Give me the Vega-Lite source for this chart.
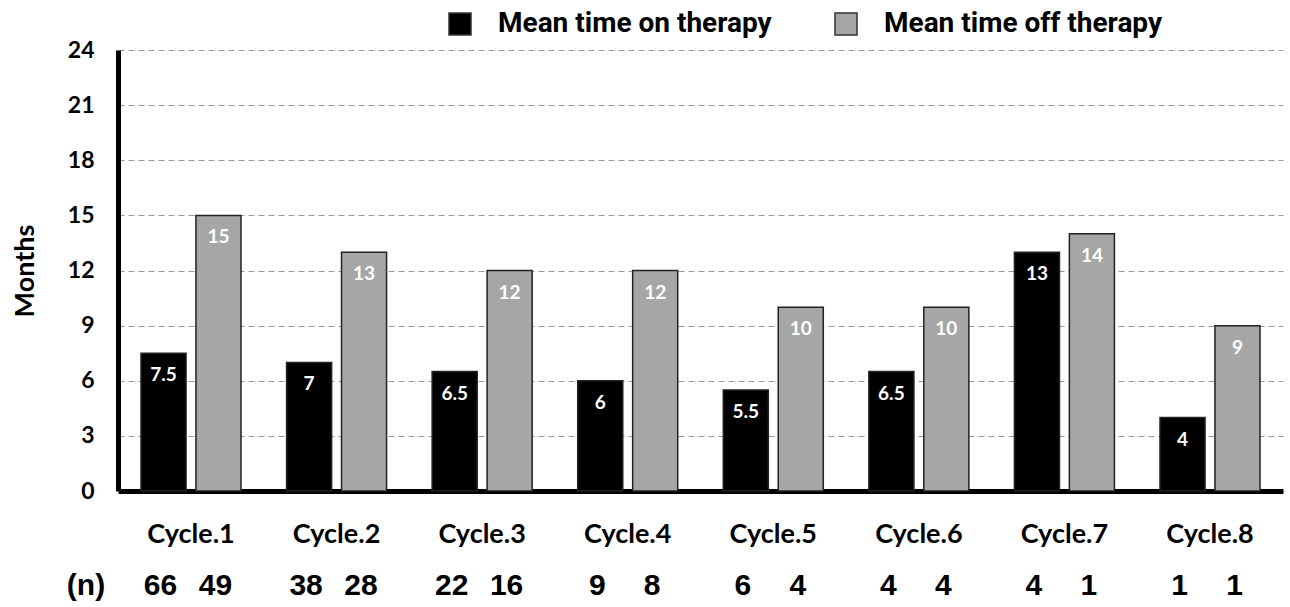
{
  "$schema": "https://vega.github.io/schema/vega-lite/v6.json",
  "width": 1165,
  "height": 441,
  "autosize": "none",
  "padding": {"left": 118, "top": 50, "right": 7, "bottom": 116},
  "background": "white",
  "config": {"view": {"stroke": null}},
  "data": {
    "values": [
      {"cycle": "Cycle.1", "series": "Mean time on therapy", "months": 7.5, "label": "7.5", "n": 66},
      {"cycle": "Cycle.1", "series": "Mean time off therapy", "months": 15, "label": "15", "n": 49},
      {"cycle": "Cycle.2", "series": "Mean time on therapy", "months": 7, "label": "7", "n": 38},
      {"cycle": "Cycle.2", "series": "Mean time off therapy", "months": 13, "label": "13", "n": 28},
      {"cycle": "Cycle.3", "series": "Mean time on therapy", "months": 6.5, "label": "6.5", "n": 22},
      {"cycle": "Cycle.3", "series": "Mean time off therapy", "months": 12, "label": "12", "n": 16},
      {"cycle": "Cycle.4", "series": "Mean time on therapy", "months": 6, "label": "6", "n": 9},
      {"cycle": "Cycle.4", "series": "Mean time off therapy", "months": 12, "label": "12", "n": 8},
      {"cycle": "Cycle.5", "series": "Mean time on therapy", "months": 5.5, "label": "5.5", "n": 6},
      {"cycle": "Cycle.5", "series": "Mean time off therapy", "months": 10, "label": "10", "n": 4},
      {"cycle": "Cycle.6", "series": "Mean time on therapy", "months": 6.5, "label": "6.5", "n": 4},
      {"cycle": "Cycle.6", "series": "Mean time off therapy", "months": 10, "label": "10", "n": 4},
      {"cycle": "Cycle.7", "series": "Mean time on therapy", "months": 13, "label": "13", "n": 4},
      {"cycle": "Cycle.7", "series": "Mean time off therapy", "months": 14, "label": "14", "n": 1},
      {"cycle": "Cycle.8", "series": "Mean time on therapy", "months": 4, "label": "4", "n": 1},
      {"cycle": "Cycle.8", "series": "Mean time off therapy", "months": 9, "label": "9", "n": 1}
    ]
  },
  "encoding": {
    "x": {
      "field": "cycle", "type": "nominal", "sort": null,
      "scale": {"paddingInner": 0.313, "paddingOuter": 0.158},
      "axis": {
        "title": null, "labelAngle": 0, "ticks": false,
        "domainColor": "black", "domainWidth": 5,
        "labelFont": "Lato", "labelFontWeight": "bold", "labelFontSize": 27,
        "labelColor": "black", "labelPadding": 30
      }
    }
  },
  "layer": [
    {
      "mark": {"type": "bar", "strokeWidth": 1.5},
      "encoding": {
        "xOffset": {
          "field": "series", "type": "nominal",
          "sort": ["Mean time on therapy", "Mean time off therapy"],
          "scale": {"paddingInner": 0.18, "paddingOuter": 0}
        },
        "y": {
          "field": "months", "type": "quantitative",
          "scale": {"domain": [0, 24], "nice": false},
          "axis": {
            "values": [0, 3, 6, 9, 12, 15, 18, 21, 24],
            "title": "Months", "titleFont": "Lato", "titleFontSize": 27,
            "titleFontWeight": "bold", "titleColor": "black", "titlePadding": 28,
            "ticks": false, "domainColor": "black", "domainWidth": 5,
            "labelFont": "Lato", "labelFontWeight": "bold", "labelFontSize": 23,
            "labelColor": "black", "labelPadding": 24,
            "grid": true, "gridColor": "#999999", "gridDash": [6, 4], "gridWidth": 1.2
          }
        },
        "color": {
          "field": "series", "type": "nominal",
          "sort": ["Mean time on therapy", "Mean time off therapy"],
          "scale": {"domain": ["Mean time on therapy", "Mean time off therapy"], "range": ["#000000", "#a6a6a6"]},
          "legend": {
            "title": null, "orient": "none", "direction": "horizontal",
            "legendX": 328, "legendY": -40,
            "symbolType": "square", "symbolSize": 484, "symbolStrokeColor": "#333333", "symbolStrokeWidth": 1.5,
            "labelFont": "Roboto", "labelFontWeight": "bold", "labelFontSize": 28, "labelLimit": 400,
            "labelColor": "black", "labelOffset": 24, "columnPadding": 60, "symbolOpacity": 1
          }
        },
        "stroke": {"value": "#222222"}
      }
    },
    {
      "mark": {"type": "text", "color": "white", "font": "Lato", "fontWeight": "bold", "fontSize": 19, "baseline": "top", "dy": 13},
      "encoding": {
        "xOffset": {
          "field": "series", "type": "nominal",
          "sort": ["Mean time on therapy", "Mean time off therapy"],
          "scale": {"paddingInner": 0.18, "paddingOuter": 0}
        },
        "y": {"field": "months", "type": "quantitative"},
        "text": {"field": "label"}
      }
    },
    {
      "mark": {"type": "text", "color": "black", "font": "Liberation Sans", "fontWeight": "bold", "fontSize": 30, "baseline": "middle", "dx": -3},
      "encoding": {
        "xOffset": {
          "field": "series", "type": "nominal",
          "sort": ["Mean time on therapy", "Mean time off therapy"],
          "scale": {"paddingInner": 0.18, "paddingOuter": 0}
        },
        "y": {"datum": -5.15},
        "text": {"field": "n"}
      }
    },
    {
      "data": {"values": [{"cycle": "Cycle.1", "label": "(n)"}]},
      "mark": {"type": "text", "color": "black", "font": "Liberation Sans", "fontWeight": "bold", "fontSize": 30, "baseline": "middle", "dx": -55},
      "encoding": {
        "xOffset": {"value": 0},
        "y": {"datum": -5.15},
        "text": {"field": "label"}
      }
    }
  ]
}
